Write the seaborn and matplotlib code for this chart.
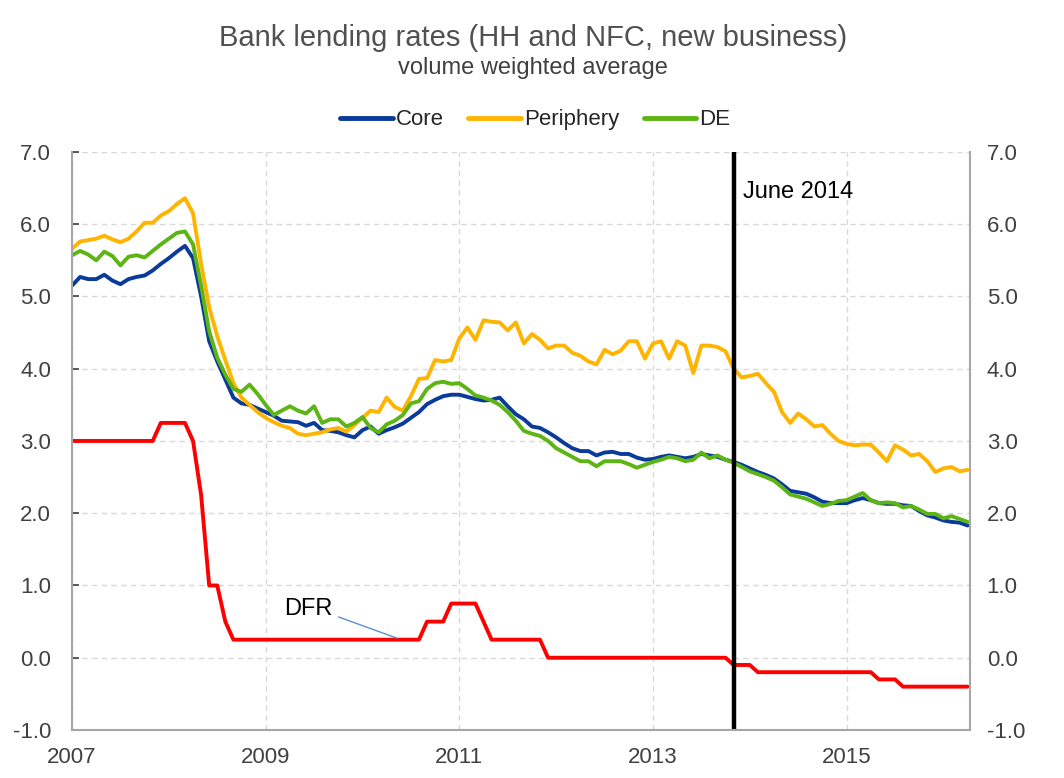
import numpy as np
import pandas as pd
import seaborn as sns
import matplotlib.pyplot as plt

# monthly observations, position 0 = first month shown
core = [5.15, 5.27, 5.24, 5.24, 5.30, 5.22, 5.17, 5.24, 5.27, 5.29, 5.36, 5.45, 5.53, 5.62, 5.70,
        5.53, 5.00, 4.38, 4.10, 3.85, 3.60, 3.52, 3.50, 3.45, 3.40, 3.35, 3.28, 3.27, 3.26, 3.21,
        3.25, 3.15, 3.14, 3.12, 3.08, 3.05, 3.15, 3.20, 3.10, 3.15, 3.19, 3.24, 3.32, 3.40, 3.51,
        3.57, 3.62, 3.64, 3.64, 3.61, 3.58, 3.56, 3.57, 3.60, 3.48, 3.37, 3.30, 3.20, 3.18, 3.12,
        3.05, 2.97, 2.90, 2.86, 2.86, 2.80, 2.84, 2.85, 2.82, 2.82, 2.77, 2.74, 2.75, 2.78, 2.80,
        2.78, 2.76, 2.78, 2.82, 2.80, 2.78, 2.74, 2.71, 2.67, 2.62, 2.57, 2.53, 2.48, 2.40, 2.31,
        2.29, 2.27, 2.22, 2.16, 2.14, 2.14, 2.14, 2.18, 2.21, 2.18, 2.14, 2.13, 2.13, 2.11, 2.10,
        2.03, 1.97, 1.94, 1.90, 1.88, 1.87, 1.83]
periphery = [5.66, 5.76, 5.78, 5.80, 5.84, 5.79, 5.75, 5.80, 5.90, 6.02, 6.02, 6.12, 6.18, 6.28, 6.36,
             6.15, 5.45, 4.85, 4.45, 4.12, 3.80, 3.60, 3.50, 3.40, 3.32, 3.26, 3.21, 3.18, 3.10, 3.08,
             3.10, 3.12, 3.16, 3.18, 3.13, 3.22, 3.32, 3.42, 3.40, 3.60, 3.47, 3.42, 3.62, 3.86, 3.87,
             4.12, 4.10, 4.12, 4.42, 4.57, 4.40, 4.67, 4.65, 4.64, 4.53, 4.64, 4.35, 4.48, 4.40, 4.28,
             4.32, 4.32, 4.22, 4.18, 4.10, 4.06, 4.26, 4.20, 4.25, 4.38, 4.38, 4.14, 4.35, 4.38, 4.14,
             4.38, 4.32, 3.94, 4.32, 4.32, 4.30, 4.24, 4.00, 3.88, 3.90, 3.93, 3.80, 3.68, 3.40, 3.25,
             3.38, 3.30, 3.20, 3.22, 3.10, 3.00, 2.96, 2.94, 2.95, 2.95, 2.84, 2.72, 2.94, 2.88, 2.80,
             2.82, 2.72, 2.57, 2.62, 2.64, 2.58, 2.60]
de = [5.57, 5.63, 5.58, 5.50, 5.62, 5.56, 5.43, 5.55, 5.57, 5.54, 5.63, 5.72, 5.80, 5.88, 5.90,
      5.72, 5.15, 4.52, 4.15, 3.92, 3.72, 3.68, 3.78, 3.65, 3.50, 3.36, 3.42, 3.48, 3.42, 3.38,
      3.48, 3.25, 3.30, 3.30, 3.20, 3.25, 3.33, 3.18, 3.12, 3.23, 3.28, 3.36, 3.52, 3.55, 3.72,
      3.80, 3.82, 3.79, 3.80, 3.72, 3.63, 3.60, 3.56, 3.50, 3.40, 3.28, 3.14, 3.10, 3.07, 3.00,
      2.90, 2.84, 2.78, 2.72, 2.72, 2.65, 2.72, 2.72, 2.72, 2.68, 2.63, 2.67, 2.71, 2.74, 2.78,
      2.76, 2.72, 2.74, 2.84, 2.76, 2.80, 2.74, 2.70, 2.64, 2.58, 2.54, 2.50, 2.45, 2.36, 2.26,
      2.23, 2.20, 2.15, 2.10, 2.13, 2.17, 2.18, 2.23, 2.28, 2.18, 2.14, 2.15, 2.14, 2.08, 2.10,
      2.05, 1.99, 1.99, 1.93, 1.96, 1.92, 1.88]
dfr = ([3.0] * 11 + [3.25] * 4 + [3.0, 2.25, 1.0, 1.0, 0.5] + [0.25] * 24 + [0.5] * 3
       + [0.75] * 4 + [0.5] + [0.25] * 7 + [0.0] * 23 + [-0.1] * 3 + [-0.2] * 15
       + [-0.3] * 3 + [-0.4] * 9)

tick_pos = [0, 24, 48, 72, 96]
tick_labels = ["2007", "2009", "2011", "2013", "2015"]
june_2014 = 82

months = np.arange(len(core))
df = pd.DataFrame({"month": months, "Core": core, "Periphery": periphery, "DE": de})
long = df.melt(id_vars="month", var_name="series", value_name="rate")

sns.set_style("white")
plt.rcParams["font.family"] = ["Liberation Sans", "DejaVu Sans"]

fig = plt.figure(figsize=(10.64, 7.78), dpi=100)
ax = fig.add_axes([0.0677, 0.0617, 0.844, 0.743])

palette = {"Core": "#0a3a9a", "Periphery": "#ffb400", "DE": "#5cb514"}
sns.lineplot(data=long, x="month", y="rate", hue="series", palette=palette,
             linewidth=2.8, ax=ax)
ax.plot(months, dfr, color="#ff0000", linewidth=2.8)
ax.axvline(june_2014, color="black", linewidth=3.2)

yticks = np.arange(-1, 8, 1)
ylabels = [f"{v:.1f}" for v in yticks]
ax.set_xlim(0, 111.3)
ax.set_ylim(-1, 7)
ax.set_xticks(tick_pos)
ax.set_xticklabels(tick_labels)
ax.set_yticks(yticks)
ax.set_yticklabels(ylabels)
ax.set_xlabel("")
ax.set_ylabel("")

ax.grid(True, color="#d9d9d9", linestyle=(0, (4, 3)), linewidth=1.0)
ax.set_axisbelow(True)
for side in ["left", "right", "bottom"]:
    ax.spines[side].set_color("#a6a6a6")
    ax.spines[side].set_linewidth(1.5)
ax.spines["top"].set_visible(False)
ax.tick_params(axis="x", labelsize=16, colors="#404040", length=6, width=1.2,
               direction="out", pad=6)
ax.tick_params(axis="y", labelsize=16, colors="#404040", length=5, width=1.2,
               direction="in", pad=15, right=True)
for t in ax.get_xticklines() + ax.get_yticklines():
    t.set_color("#a6a6a6")

# right-hand axis repeats the scale
ax2 = ax.twinx()
ax2.set_ylim(-1, 7)
ax2.set_yticks(yticks)
ax2.set_yticklabels(ylabels)
ax2.tick_params(axis="y", labelsize=16, colors="#404040", length=0, pad=12)
for s in ax2.spines.values():
    s.set_visible(False)
ax2.grid(False)

ax.text(june_2014 + 1.2, 6.45, "June 2014", fontsize=17, color="black", va="center")
ax.annotate("DFR", xy=(40.3, 0.27), xytext=(29.3, 0.67), fontsize=17,
            color="black", ha="center", va="center",
            arrowprops=dict(arrowstyle="-", color="#5b8fd0", linewidth=1.0,
                            relpos=(1.0, 0.25), shrinkA=2, shrinkB=0))

fig.text(0.501, 0.951, "Bank lending rates (HH and NFC, new business)", ha="center",
         va="center", fontsize=21, color="#505050")
fig.text(0.501, 0.912, "volume weighted average", ha="center", va="center",
         fontsize=17, color="#404040")

handles, labels = ax.get_legend_handles_labels()
for h in handles:
    h.set_linewidth(3.5)
ax.legend(handles, labels, loc="center", bbox_to_anchor=(0.503, 0.846),
          bbox_transform=fig.transFigure, ncol=3, frameon=False, fontsize=16,
          handlelength=2.35, handletextpad=0.15, columnspacing=1.1)

fig.savefig("out.png", dpi=100)
